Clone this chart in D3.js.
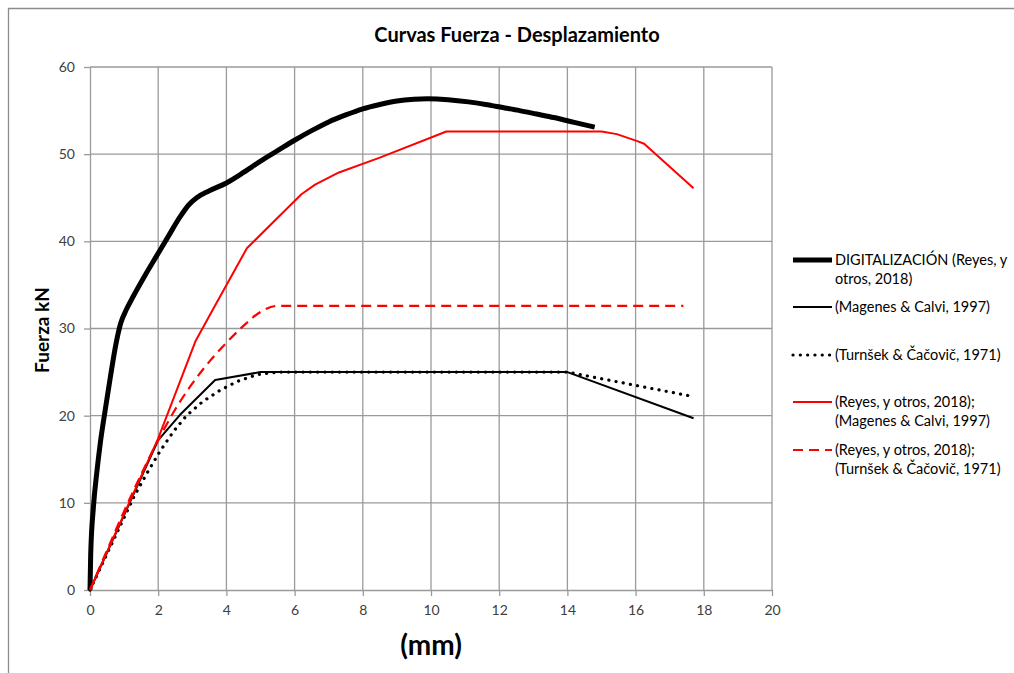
<!DOCTYPE html>
<html>
<head>
<meta charset="utf-8">
<script src="https://cdn.jsdelivr.net/npm/d3@7"></script>
<style>
  html, body { margin: 0; padding: 0; background: #fff; }
  svg { display: block; }
  text { font-family: Lato, "Open Sans", sans-serif; }
</style>
</head>
<body>
<svg id="chart" width="1014" height="673"></svg>
<script>
// Force–displacement curves (displacement in mm, force in kN)
const xTicks = [0, 2, 4, 6, 8, 10, 12, 14, 16, 18, 20];
const yTicks = [0, 10, 20, 30, 40, 50, 60];

// Digitised experimental envelope
const digitX = [0, 0.02, 0.1, 0.2, 0.3, 0.44, 0.6, 0.75, 0.9, 1.07, 1.27, 1.6, 1.95, 2.3, 2.64, 2.9, 3.13, 3.5, 4.0, 4.5, 5.0, 5.5, 6.0, 6.5, 7.0, 7.5, 8.0, 8.5, 9.0, 9.5, 9.9, 10.5, 11.1, 11.6, 12.1, 12.6, 13.1, 13.6, 14.2, 14.8];
const digitY = [0, 4, 9.5, 13.5, 16.8, 20.5, 24.5, 28, 30.6, 32.2, 33.7, 36.0, 38.3, 40.6, 42.8, 44.2, 45.0, 45.8, 46.7, 47.9, 49.2, 50.4, 51.6, 52.7, 53.7, 54.5, 55.2, 55.7, 56.1, 56.3, 56.35, 56.25, 56.0, 55.7, 55.35, 55.0, 54.6, 54.2, 53.65, 53.1];

// Magenes & Calvi, 1997
const magenesX = [0, 2.0, 2.64, 3.67, 5.0, 14.0, 17.7];
const magenesY = [0, 17.2, 20.1, 24.1, 25.0, 25.0, 19.7];

// Turnšek & Čačovič, 1971
const turnsekX = [0, 1.3, 1.7, 2.05, 2.45, 2.83, 3.3, 3.81, 4.3, 4.89, 5.5, 14.0, 17.55];
const turnsekY = [0, 10.8, 13.6, 15.9, 18.2, 20.0, 21.6, 22.9, 23.9, 24.7, 25.0, 25.0, 22.3];

// Reyes, y otros, 2018 with Magenes & Calvi, 1997
const reyesMagX = [0, 2.0, 3.1, 3.62, 4.6, 5.4, 6.2, 6.6, 7.3, 8.5, 10.45, 15.0, 15.45, 16.05, 16.25, 17.7];
const reyesMagY = [0, 17.4, 28.6, 32.3, 39.2, 42.3, 45.4, 46.5, 47.9, 49.6, 52.6, 52.6, 52.3, 51.5, 51.2, 46.1];

// Reyes, y otros, 2018 with Turnšek & Čačovič, 1971
const reyesTurX = [0, 1.95, 2.45, 2.93, 3.5, 4.01, 4.5, 5.0, 5.5, 17.4];
const reyesTurY = [0, 16.8, 20.4, 23.3, 26.2, 28.4, 30.3, 31.9, 32.6, 32.6];

const legendLabels = [
  ["DIGITALIZACIÓN (Reyes, y", "otros, 2018)"],
  ["(Magenes & Calvi, 1997)"],
  ["(Turnšek & Čačovič, 1971)"],
  ["(Reyes, y otros, 2018);", "(Magenes & Calvi, 1997)"],
  ["(Reyes, y otros, 2018);", "(Turnšek & Čačovič, 1971)"]
];

const series = [
  { xs: digitX, ys: digitY, color: "#000", width: 5, dash: null, smooth: true },
  { xs: magenesX, ys: magenesY, color: "#000", width: 2, dash: null, smooth: false },
  { xs: turnsekX, ys: turnsekY, color: "#000", width: 3.2, dash: "0.1 7.2", cap: "round", smooth: false },
  { xs: reyesMagX, ys: reyesMagY, color: "#ff0000", width: 2, dash: null, smooth: false },
  { xs: reyesTurX, ys: reyesTurY, color: "#ff0000", width: 2.2, dash: "10 6", smooth: true }
];

const svg = d3.select("#chart");
const W = 1014, H = 673;

// outer chart frame
svg.append("path")
  .attr("d", `M8.5,${H} L8.5,8.5 L${W},8.5`)
  .attr("fill", "none").attr("stroke", "#8c8c8c").attr("stroke-width", 1.3);

const x = d3.scaleLinear().domain([0, 20]).range([90, 772]);
const y = d3.scaleLinear().domain([0, 60]).range([590, 67]);

const grid = svg.append("g");
grid.selectAll("line.v").data(xTicks.slice(1)).join("line")
  .attr("x1", d => x(d)).attr("x2", d => x(d))
  .attr("y1", y(0)).attr("y2", y(60))
  .attr("stroke", "#9a9a9a").attr("stroke-width", 1.3);
grid.selectAll("line.h").data(yTicks.slice(1)).join("line")
  .attr("x1", x(0)).attr("x2", x(20))
  .attr("y1", d => y(d)).attr("y2", d => y(d))
  .attr("stroke", "#9a9a9a").attr("stroke-width", 1.3);

const xAxis = svg.append("g").attr("transform", `translate(0,${y(0)})`)
  .call(d3.axisBottom(x).tickValues(xTicks).tickSize(6).tickSizeOuter(0).tickPadding(9));
const yAxis = svg.append("g").attr("transform", `translate(${x(0)},0)`)
  .call(d3.axisLeft(y).tickValues(yTicks).tickSize(6).tickSizeOuter(0).tickPadding(9));
[xAxis, yAxis].forEach(a => {
  a.selectAll("path.domain").attr("stroke", "#9a9a9a").attr("stroke-width", 1.3);
  a.selectAll(".tick line").attr("stroke", "#9a9a9a").attr("stroke-width", 1.3);
  a.selectAll(".tick text").attr("fill", "#404040").style("font-size", "14px")
    .style("font-family", "Lato, 'Open Sans', sans-serif");
});

// data curves
series.forEach(s => {
  const pts = s.xs.map((v, i) => [v, s.ys[i]]);
  const line = d3.line().x(d => x(d[0])).y(d => y(d[1]))
    .curve(s.smooth ? d3.curveMonotoneX : d3.curveLinear);
  svg.append("path").datum(pts)
    .attr("d", line)
    .attr("fill", "none")
    .attr("stroke", s.color)
    .attr("stroke-width", s.width)
    .attr("stroke-linejoin", "round")
    .attr("stroke-linecap", s.cap || "butt")
    .attr("stroke-dasharray", s.dash);
});

// titles
svg.append("text").attr("x", 517).attr("y", 42).attr("text-anchor", "middle")
  .style("font-size", "20px").style("font-weight", "bold").attr("fill", "#000")
  .text("Curvas Fuerza - Desplazamiento");
svg.append("text").attr("transform", "translate(49,330) rotate(-90)")
  .attr("text-anchor", "middle").style("font-size", "19px").style("font-weight", "bold")
  .text("Fuerza kN");
svg.append("text").attr("x", 431).attr("y", 655).attr("text-anchor", "middle")
  .style("font-size", "28px").style("font-weight", "bold").text("(mm)");

// legend
const legendY = [260, 307, 355, 402, 450];
const lg = svg.append("g");
series.forEach((s, i) => {
  lg.append("line")
    .attr("x1", 793).attr("x2", 832)
    .attr("y1", legendY[i]).attr("y2", legendY[i])
    .attr("stroke", s.color).attr("stroke-width", s.width)
    .attr("stroke-linecap", s.cap || "butt")
    .attr("stroke-dasharray", s.dash);
  const t = lg.append("text").attr("x", 835).attr("y", legendY[i] + 5)
    .style("font-size", "14.5px").attr("fill", "#000");
  legendLabels[i].forEach((ln, j) => {
    t.append("tspan").attr("x", 835).attr("dy", j === 0 ? 0 : 19).text(ln);
  });
});
</script>
</body>
</html>
